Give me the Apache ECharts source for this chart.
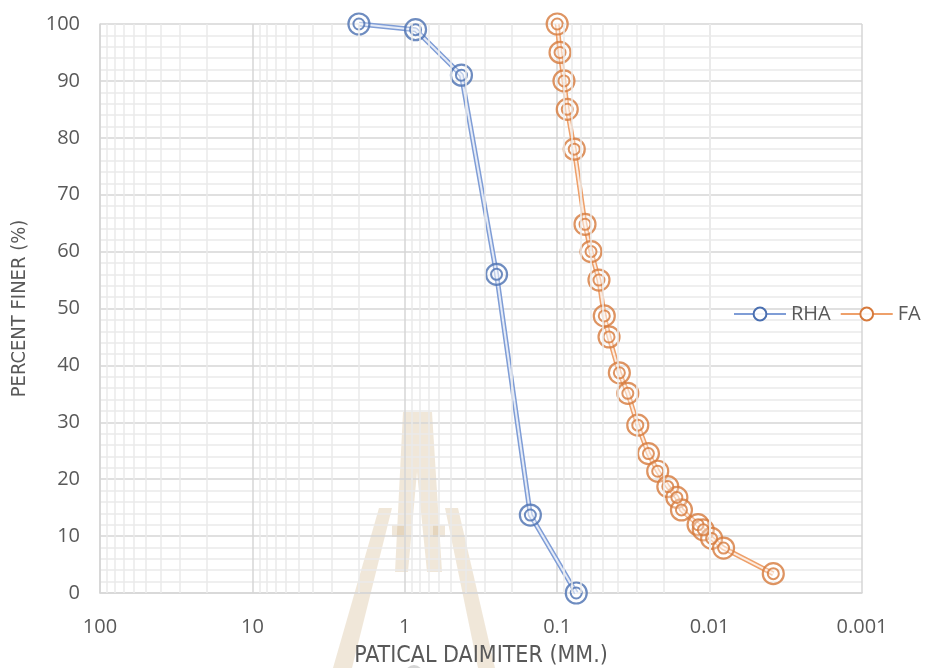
<!DOCTYPE html>
<html>
<head>
<meta charset="utf-8">
<script src="https://cdn.jsdelivr.net/npm/echarts@6/dist/echarts.min.js"></script>
<style>
html,body{margin:0;padding:0;background:#fff;}
#chart{width:927px;height:668px;}
</style>
</head>
<body>
<div id="chart"></div>
<script>
// ---- data ----
const rhaSize = [2, 0.85, 0.425, 0.25, 0.15, 0.075];
const rhaFiner = [100, 99, 91, 56, 13.7, 0];
const faSize = [0.1, 0.0958, 0.0903, 0.0859, 0.0773, 0.0657, 0.060, 0.0532, 0.0491, 0.0457, 0.0391, 0.0344, 0.0296, 0.0252, 0.0219, 0.0188, 0.0164, 0.0153, 0.0119, 0.0110, 0.0097, 0.0081, 0.00382];
const faFiner = [100, 95, 90, 85, 78, 64.8, 60, 55, 48.7, 45, 38.7, 35.1, 29.5, 24.5, 21.4, 18.7, 16.8, 14.6, 12, 11.1, 9.6, 7.9, 3.4];
const xTickLabels = ['100', '10', '1', '0.1', '0.01', '0.001'];
const yTicks = [0, 10, 20, 30, 40, 50, 60, 70, 80, 90, 100];
const seriesNames = ['RHA', 'FA'];

const pairs = (xs, ys) => xs.map((x, i) => [x, ys[i]]);
const minorX = [];
for (let k = -3; k <= 1; k++) for (let m = 2; m <= 9; m++) minorX.push(+(m * Math.pow(10, k)).toPrecision(3));

const BLUE = '#4a6fb0', BLUE_LINE = '#7f9dd6';
const ORANGE = '#d6793b', ORANGE_LINE = '#eea06a';
const TXT = '#595959';
const narrow = "'Liberation Sans Narrow', 'DejaVu Sans Condensed', sans-serif";
const lbl = "'Open Sans', 'Liberation Sans', sans-serif";

function seriesSet(name, xs, ys, stroke, lineCol) {
  const d = pairs(xs, ys);
  return [
    { name: name, type: 'line', data: d, z: 2, showSymbol: false, symbol: 'circle', symbolSize: 14,
      itemStyle: { color: 'rgba(255,255,255,0.9)', borderColor: stroke, borderWidth: 2 },
      lineStyle: { color: lineCol, width: 5 }, animation: false },
    { name: name + '_in', type: 'line', data: d, z: 2, showSymbol: false, silent: true,
      lineStyle: { color: 'rgba(255,255,255,0.8)', width: 2 }, animation: false },
    { name: name + '_o', type: 'scatter', data: d, z: 3, symbol: 'circle', symbolSize: 21, silent: true,
      itemStyle: { color: 'rgba(255,255,255,0.35)', borderColor: stroke, borderWidth: 2.2 }, animation: false },
    { name: name + '_i', type: 'scatter', data: d, z: 4, symbol: 'circle', symbolSize: 11, silent: true,
      itemStyle: { color: 'rgba(255,255,255,0.4)', borderColor: stroke, borderWidth: 2 }, animation: false }
  ];
}

const wm = 'rgba(200,170,120,0.28)';
const wmEl = (el) => Object.assign({ z: -1, silent: true }, el);
const chart = echarts.init(document.getElementById('chart'), null, { renderer: 'canvas' });
chart.setOption({
  animation: false,
  backgroundColor: '#fff',
  grid: { left: 100, right: 65, top: 24, bottom: 75, containLabel: false, outerBoundsMode: 'none' },
  legend: {
    data: seriesNames, left: 733, top: 304, itemWidth: 52, itemHeight: 16, itemGap: 9, padding: 0,
    textStyle: { fontSize: 20, color: TXT, fontFamily: lbl }
  },
  xAxis: {
    type: 'log', logBase: 10, min: 0.001, max: 100, inverse: true,
    name: 'PATICAL DAIMITER (MM.)', nameLocation: 'middle', nameGap: 52,
    nameTextStyle: { fontSize: 23, color: TXT, fontFamily: narrow },
    axisLine: { show: true, lineStyle: { color: '#d6d6d6', width: 1.5 } },
    axisTick: { show: false },
    axisLabel: { margin: 24, fontSize: 20, color: TXT, fontFamily: lbl,
      formatter: v => xTickLabels[Math.round(2 - Math.log10(v))] },
    splitLine: { show: true, lineStyle: { color: '#d6d6d6', width: 1.5 } }
  },
  yAxis: {
    type: 'value', min: yTicks[0], max: yTicks[yTicks.length - 1], interval: 10,
    name: 'PERCENT FINER (%)', nameLocation: 'middle', nameGap: 70,
    nameTextStyle: { fontSize: 20, color: TXT, fontFamily: narrow },
    axisLine: { show: true, lineStyle: { color: '#d6d6d6', width: 1.5 } },
    axisTick: { show: false },
    axisLabel: { margin: 20, fontSize: 20, color: TXT, fontFamily: lbl },
    splitLine: { show: true, lineStyle: { color: '#d6d6d6', width: 1.5 } },
    minorTick: { show: false, splitNumber: 5 },
    minorSplitLine: { show: true, lineStyle: { color: '#eaeaea', width: 1.5 } }
  },
  graphic: [
    wmEl({ type: 'polygon', shape: { points: [[403,412],[432,412],[442,572],[427,572],[417,472],[408,572],[395,572]] }, style: { fill: wm } }),
    wmEl({ type: 'polygon', shape: { points: [[379,508],[392,508],[352,668],[333,668]] }, style: { fill: wm } }),
    wmEl({ type: 'polygon', shape: { points: [[445,508],[458,508],[495,668],[478,668]] }, style: { fill: wm } }),
    wmEl({ type: 'rect', shape: { x: 392, y: 525, width: 12, height: 12 }, style: { fill: wm } }),
    wmEl({ type: 'rect', shape: { x: 433, y: 525, width: 12, height: 12 }, style: { fill: wm } }),
    wmEl({ type: 'circle', shape: { cx: 414, cy: 674, r: 9 }, style: { fill: 'rgba(150,150,150,0.4)' } })
  ],
  series: [
    { name: 'minor', type: 'line', data: [], z: 1, silent: true,
      markLine: { silent: true, symbol: ['none', 'none'], label: { show: false }, animation: false,
        lineStyle: { color: '#eaeaea', width: 1.5, type: 'solid' },
        data: minorX.map(v => ({ xAxis: v })) } },
    ...seriesSet(seriesNames[0], rhaSize, rhaFiner, BLUE, BLUE_LINE),
    ...seriesSet(seriesNames[1], faSize, faFiner, ORANGE, ORANGE_LINE)
  ]
});
</script>
</body>
</html>
